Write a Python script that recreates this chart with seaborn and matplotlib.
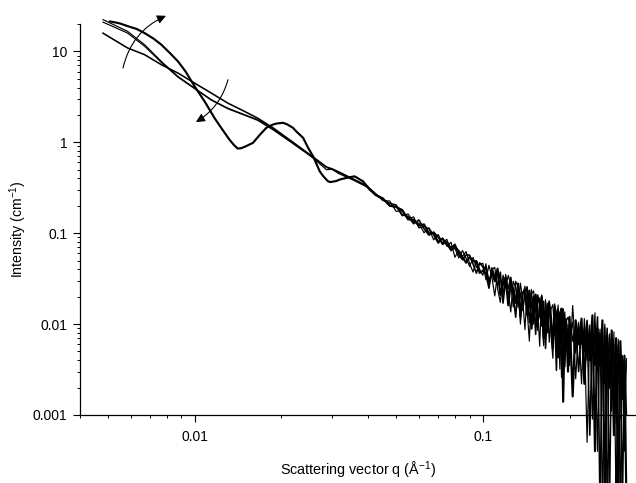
import matplotlib
matplotlib.use("Agg")
import matplotlib.pyplot as plt
import numpy as np
import pandas as pd
import seaborn as sns

# ---- scattering curves: q in 1/Angstrom, intensity in 1/cm ----
# low-q part of the three smooth samples (shared q grid)
q_smooth = [0.0048, 0.00585, 0.0067, 0.00766, 0.00875, 0.0100, 0.01143, 0.01305,
            0.01492, 0.01655, 0.01871, 0.0214, 0.02441, 0.02575, 0.02866, 0.0300,
            0.0315, 0.03545, 0.0394, 0.0425]
i_a_smooth = [22.4, 16.6, 11.85, 7.76, 5.30, 3.94, 2.94, 2.37, 2.01, 1.77, 1.40,
              1.04, 0.77, 0.68, 0.53, 0.50, 0.47, 0.39, 0.33, 0.27]
i_b_smooth = [21.0, 15.9, 11.4, 7.55, 5.20, 3.88, 2.90, 2.33, 1.98, 1.74, 1.37,
              1.02, 0.76, 0.67, 0.50, 0.505, 0.455, 0.385, 0.325, 0.265]
i_c_smooth = [15.9, 10.9, 9.2, 7.14, 5.77, 4.47, 3.47, 2.69, 2.18, 1.84, 1.44,
              1.06, 0.78, 0.69, 0.535, 0.51, 0.475, 0.395, 0.335, 0.27]

# low-q part of the sample with form-factor oscillations
q_osc = [0.00507, 0.0055, 0.00587, 0.0063, 0.0067, 0.0072, 0.00766, 0.0082,
         0.00875, 0.0093, 0.0100, 0.01083, 0.01173, 0.01238, 0.0132, 0.0137,
         0.0141, 0.0145, 0.0150, 0.01594, 0.01680, 0.01773, 0.01871, 0.0193,
         0.02024, 0.0209, 0.02193, 0.0225, 0.02378, 0.0248, 0.02575, 0.02716,
         0.0280, 0.02902, 0.0296, 0.0310, 0.03188, 0.03362, 0.0359, 0.03839,
         0.0405, 0.0425]
i_osc = [21.4, 20.3, 18.9, 17.6, 15.9, 13.8, 11.85, 9.6, 7.76, 6.0, 4.11, 2.81,
         1.84, 1.43, 1.07, 0.93, 0.853, 0.86, 0.90, 0.986, 1.20, 1.443, 1.569, 1.61,
         1.638, 1.58, 1.443, 1.32, 1.12, 0.86, 0.702, 0.480, 0.42, 0.372, 0.365,
         0.375, 0.389, 0.406, 0.422, 0.372, 0.302, 0.262]

# high-q tail, measured on a common grid
q_tail = [0.0450, 0.0475, 0.0500, 0.0525, 0.0550, 0.0575, 0.0600, 0.0625, 0.0650,
          0.0675, 0.0700, 0.0725, 0.0750, 0.0775, 0.0800, 0.0825, 0.0850, 0.0875,
          0.0900, 0.0925, 0.0950, 0.0975,
          0.1000, 0.1025, 0.1050, 0.1075, 0.1100, 0.1125, 0.1150, 0.1175, 0.1200,
          0.1225, 0.1250, 0.1275, 0.1300, 0.1325, 0.1350, 0.1375, 0.1400, 0.1425,
          0.1450, 0.1475, 0.1500, 0.1525, 0.1550, 0.1575, 0.1600, 0.1625, 0.1650,
          0.1675, 0.1700, 0.1725, 0.1750, 0.1775, 0.1800, 0.1825, 0.1850, 0.1875,
          0.1900, 0.1925, 0.1950, 0.1975,
          0.200, 0.205, 0.210, 0.215, 0.220, 0.225, 0.230, 0.235, 0.240, 0.245,
          0.250, 0.255, 0.260, 0.265, 0.270, 0.275, 0.280, 0.285, 0.290, 0.295,
          0.300, 0.305, 0.310, 0.315]

i_a_tail = [0.228, 0.226, 0.174, 0.176, 0.145, 0.151, 0.114, 0.119, 0.112, 0.0845,
            0.0968, 0.0779, 0.0856, 0.0639, 0.0683, 0.0533, 0.0644, 0.0529, 0.0430,
            0.0542, 0.0418, 0.0456,
            0.0466, 0.0307, 0.0444, 0.0329, 0.0204, 0.0369, 0.0313, 0.0213, 0.0352,
            0.0228, 0.0136, 0.0296, 0.0251, 0.0153, 0.0282, 0.0185, 0.0087, 0.0238,
            0.0152, 0.0241, 0.0100, 0.0184, 0.0152, 0.0057, 0.0209, 0.0146, 0.0097,
            0.0169, 0.0063, 0.0146, 0.0164, 0.0075, 0.0105, 0.0162, 0.0032, 0.0128,
            0.0079, 0.0136, 0.0052, 0.0100,
            0.0035, 0.0160, 0.0048, 0.0105, 0.0022, 0.0115, 0.0040, 0.0098, 0.0009,
            0.0105, 0.0030, 0.0088, 0.0001, 0.0092, 0.0025, 0.0078, 0.0011, 0.0082,
            0.0001, 0.0068, 0.0018, 0.0045, 0.0004, 0.0042]
i_b_tail = [0.244, 0.199, 0.198, 0.155, 0.163, 0.133, 0.129, 0.101, 0.115, 0.095,
            0.0773, 0.0886, 0.0718, 0.0795, 0.0544, 0.0651, 0.0557, 0.0627, 0.0461,
            0.0374, 0.0499, 0.0400,
            0.0344, 0.0461, 0.0255, 0.0398, 0.0421, 0.0244, 0.0173, 0.0346, 0.0249,
            0.0344, 0.0273, 0.0154, 0.0296, 0.0257, 0.0100, 0.0211, 0.0261, 0.0140,
            0.0065, 0.0215, 0.0232, 0.0136, 0.0085, 0.0194, 0.0144, 0.0058, 0.0186,
            0.0117, 0.0158, 0.0073, 0.0042, 0.0167, 0.0128, 0.0076, 0.0137, 0.0026,
            0.0139, 0.0091, 0.0113, 0.0036,
            0.0070, 0.0105, 0.0025, 0.0095, 0.0060, 0.0090, 0.0005, 0.0085, 0.0045,
            0.0133, 0.0004, 0.0080, 0.0028, 0.0100, 0.0001, 0.0072, 0.0030, 0.0060,
            0.0008, 0.0058, 0.0001, 0.0042, 0.0020, 0.0040]
i_c_tail = [0.233, 0.213, 0.204, 0.160, 0.153, 0.127, 0.140, 0.112, 0.0951, 0.103,
            0.0906, 0.0754, 0.0802, 0.0689, 0.0756, 0.0577, 0.0510, 0.0578, 0.0573,
            0.0456, 0.0363, 0.0473,
            0.0425, 0.0353, 0.0248, 0.0415, 0.0336, 0.0266, 0.0373, 0.0170, 0.0304,
            0.0246, 0.0327, 0.0209, 0.0119, 0.0262, 0.0213, 0.0141, 0.0222, 0.0257,
            0.0104, 0.0163, 0.0203, 0.0077, 0.0209, 0.0161, 0.0095, 0.0178, 0.0054,
            0.0150, 0.0179, 0.0104, 0.0065, 0.0138, 0.0031, 0.0146, 0.0110, 0.0063,
            0.0147, 0.0034, 0.0111, 0.0118,
            0.0105, 0.0065, 0.0095, 0.0030, 0.0090, 0.0050, 0.0110, 0.0006, 0.0080,
            0.0035, 0.0120, 0.0001, 0.0075, 0.0022, 0.0090, 0.0001, 0.0070, 0.0015,
            0.0065, 0.0040, 0.0045, 0.0001, 0.0040, 0.0010]
i_osc_tail = [0.240, 0.201, 0.194, 0.180, 0.142, 0.141, 0.121, 0.125, 0.0993, 0.0998,
              0.0799, 0.0869, 0.0756, 0.0660, 0.0723, 0.0626, 0.0545, 0.0474, 0.0548,
              0.0490, 0.0490, 0.0366,
              0.0385, 0.0422, 0.0284, 0.0374, 0.0296, 0.0407, 0.0209, 0.0278, 0.0325,
              0.0161, 0.0285, 0.0242, 0.0171, 0.0279, 0.0121, 0.0221, 0.0235, 0.0126,
              0.0233, 0.0089, 0.0158, 0.0211, 0.0109, 0.0131, 0.0202, 0.0070, 0.0142,
              0.0081, 0.0164, 0.0116, 0.0054, 0.0155, 0.0122, 0.0043, 0.0095, 0.0148,
              0.0014, 0.0115, 0.0080, 0.0030,
              0.0120, 0.0016, 0.0110, 0.0060, 0.0115, 0.0022, 0.0100, 0.0040, 0.0125,
              0.0004, 0.0090, 0.0035, 0.0110, 0.0001, 0.0075, 0.0020, 0.0085, 0.0006,
              0.0070, 0.0001, 0.0065, 0.0015, 0.0045, 0.0001]

samples = ["A", "B", "C", "D"]

frames = [
    pd.DataFrame({"q": q_smooth + q_tail, "I": i_a_smooth + i_a_tail, "sample": "A"}),
    pd.DataFrame({"q": q_smooth + q_tail, "I": i_b_smooth + i_b_tail, "sample": "B"}),
    pd.DataFrame({"q": q_smooth + q_tail, "I": i_c_smooth + i_c_tail, "sample": "C"}),
    pd.DataFrame({"q": q_osc + q_tail, "I": i_osc + i_osc_tail, "sample": "D"}),
]
df = pd.concat(frames, ignore_index=True)

sns.set_theme(style="ticks")
plt.rcParams["font.family"] = ["Liberation Sans", "DejaVu Sans"]
plt.rcParams["mathtext.fontset"] = "custom"
plt.rcParams["mathtext.rm"] = "Liberation Sans"
plt.rcParams["mathtext.default"] = "regular"

fig = plt.figure(figsize=(6.36, 4.83), dpi=100)
ax = fig.add_axes([80 / 636, 68 / 483, 556 / 636, 391 / 483])

sns.lineplot(
    data=df, x="q", y="I", hue="sample", size="sample",
    palette={s: "black" for s in samples},
    sizes={"A": 0.85, "B": 0.85, "C": 1.15, "D": 1.55},
    estimator=None, sort=False, legend=False, ax=ax, clip_on=False,
)

ax.set_xscale("log")
ax.set_yscale("log")
ax.set_xlim(0.004, 0.34)
ax.set_ylim(0.001, 20)

ax.set_xticks([0.01, 0.1])
ax.set_xticklabels(["0.01", "0.1"])
ax.set_yticks([0.001, 0.01, 0.1, 1, 10])
ax.set_yticklabels(["0.001", "0.01", "0.1", "1", "10"])

for side in ("top", "right"):
    ax.spines[side].set_visible(False)
for side in ("left", "bottom"):
    ax.spines[side].set_linewidth(0.9)
    ax.spines[side].set_color("black")

ax.tick_params(which="major", direction="out", length=5, width=0.8,
               colors="black", labelsize=10, pad=4)
ax.tick_params(which="minor", direction="out", length=2.5, width=0.7, colors="black")
ax.tick_params(axis="x", which="major", pad=5.5)

ax.set_xlabel("Scattering vector q (Å$^{-1}$)", fontsize=10.4, color="black", labelpad=12)
ax.set_ylabel("Intensity (cm$^{-1}$)", fontsize=10.2, color="black",
              va="center", rotation_mode="anchor")
ax.yaxis.set_label_coords(-62 / 556, 0.476)

# curved arrows marking the trend across the series
arrow = dict(arrowstyle="-|>", color="black", lw=0.8, shrinkA=0, shrinkB=0,
             mutation_scale=13)
ax.annotate("", xy=(0.00795, 24.6), xytext=(0.00564, 6.55),
            arrowprops=dict(arrow, connectionstyle="arc3,rad=-0.25"),
            annotation_clip=False)
ax.annotate("", xy=(0.01010, 1.67), xytext=(0.01305, 4.88),
            arrowprops=dict(arrow, connectionstyle="arc3,rad=-0.2"),
            annotation_clip=False)

fig.savefig("out.png", dpi=100, facecolor="white")
